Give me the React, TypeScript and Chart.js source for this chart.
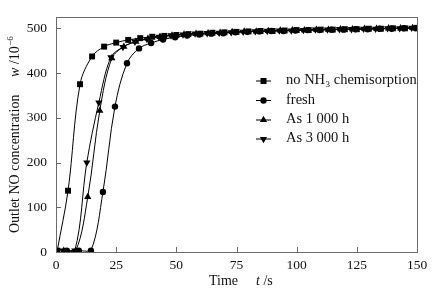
import React, { useEffect, useRef } from "react";
import { Chart, registerables } from "chart.js";

Chart.register(...registerables);

// ---- data ----
const squareT = [0.5, 5, 10, 15, 20, 25, 30, 35, 40, 45, 50, 55, 60, 65, 70, 75, 80, 85, 90, 95, 100, 105, 110, 115, 120, 125, 130, 135, 140, 145, 150];
const squareV = [3, 137, 375, 437, 459, 468, 474, 478, 481, 483, 485, 487, 488, 490, 491, 492, 493, 494, 494, 495, 496, 496, 497, 497, 498, 498, 499, 499, 500, 500, 501];

const freshT = [4.5, 9.5, 14.5, 19.5, 24.5, 29.5, 34.5, 39.5, 44.5, 49.5, 54.5, 59.5, 64.5, 69.5, 74.5, 79.5, 84.5, 89.5, 94.5, 99.5, 104.5, 109.5, 114.5, 119.5, 124.5, 129.5, 134.5, 139.5, 144.5, 149.5];
const freshV = [3, 3, 3, 134, 325, 422, 455, 467, 475, 480, 484, 486, 488, 489, 491, 492, 493, 494, 494, 495, 496, 496, 497, 497, 498, 498, 499, 499, 500, 500];

const as1000T = [3.2, 8.2, 13.2, 18.2, 23.2, 28.2, 33.2, 38.2, 43.2, 48.2, 53.2, 58.2, 63.2, 68.2, 73.2, 78.2, 83.2, 88.2, 93.2, 98.2, 103.2, 108.2, 113.2, 118.2, 123.2, 128.2, 133.2, 138.2, 143.2, 148.2];
const as1000V = [3, 3, 123, 316, 433, 459, 470, 477, 481, 484, 486, 488, 489, 490, 492, 493, 493, 494, 495, 496, 496, 497, 497, 498, 498, 499, 499, 500, 500, 501];

const as3000T = [2.8, 7.8, 12.8, 17.8, 22.8, 27.8, 32.8, 37.8, 42.8, 47.8, 52.8, 57.8, 62.8, 67.8, 72.8, 77.8, 82.8, 87.8, 92.8, 97.8, 102.8, 107.8, 112.8, 117.8, 122.8, 127.8, 132.8, 137.8, 142.8, 147.8];
const as3000V = [3, 3, 200, 334, 435, 458, 470, 476, 481, 484, 486, 488, 489, 490, 491, 492, 493, 494, 495, 495, 496, 497, 497, 498, 498, 499, 499, 500, 500, 501];

const seriesNames = ["no NH3 chemisorption", "fresh", "As 1 000 h", "As 3 000 h"];
const xTicks = [0, 25, 50, 75, 100, 125, 150];
const yTicks = [0, 100, 200, 300, 400, 500];

const SERIF = "'Liberation Serif', 'Times New Roman', serif";

function pts(t: number[], v: number[]) {
  return t.map((x, i) => ({ x, y: v[i] }));
}

function drawMarker(ctx: CanvasRenderingContext2D, kind: number, x: number, y: number) {
  ctx.beginPath();
  if (kind === 0) {
    ctx.rect(x - 3, y - 3, 6, 6);
  } else if (kind === 1) {
    ctx.arc(x, y, 3.2, 0, Math.PI * 2);
  } else if (kind === 2) {
    ctx.moveTo(x, y - 4.2);
    ctx.lineTo(x + 3.6, y + 2.1);
    ctx.lineTo(x - 3.6, y + 2.1);
    ctx.closePath();
  } else {
    ctx.moveTo(x, y + 4.2);
    ctx.lineTo(x + 3.6, y - 2.1);
    ctx.lineTo(x - 3.6, y - 2.1);
    ctx.closePath();
  }
  ctx.fill();
}

const decorPlugin = {
  id: "decor",
  afterDraw(chart: any) {
    const ctx: CanvasRenderingContext2D = chart.ctx;
    const a = chart.chartArea;
    const xs = chart.scales.x;
    const ys = chart.scales.y;
    ctx.save();
    // frame
    ctx.strokeStyle = "#6b6b6b";
    ctx.lineWidth = 1;
    ctx.strokeRect(Math.round(a.left) + 0.5, Math.round(a.top) + 0.5, Math.round(a.right - a.left), Math.round(a.bottom - a.top));
    // inward ticks
    ctx.beginPath();
    for (const v of xTicks) {
      const px = Math.round(xs.getPixelForValue(v)) + 0.5;
      ctx.moveTo(px, a.bottom);
      ctx.lineTo(px, a.bottom - 5);
    }
    for (const v of yTicks) {
      const py = Math.round(ys.getPixelForValue(v)) + 0.5;
      ctx.moveTo(a.left, py);
      ctx.lineTo(a.left + 5, py);
    }
    ctx.stroke();

    ctx.fillStyle = "#111";
    ctx.textBaseline = "middle";
    ctx.textAlign = "left";
    // x title
    ctx.font = `14px ${SERIF}`;
    ctx.fillText("Time", 209, 281);
    ctx.font = `italic 14px ${SERIF}`;
    ctx.fillText("t", 256, 281);
    const tw = ctx.measureText("t ").width;
    ctx.font = `14px ${SERIF}`;
    ctx.fillText("/s", 256 + tw, 281);

    // y title (rotated)
    ctx.save();
    ctx.translate(15.5, 233);
    ctx.rotate(-Math.PI / 2);
    ctx.font = `14px ${SERIF}`;
    ctx.fillText("Outlet NO concentration", 0, 0);
    let off = 156;
    ctx.font = `italic 14px ${SERIF}`;
    ctx.fillText("w", off, 0);
    off += ctx.measureText("w ").width;
    ctx.font = `14px ${SERIF}`;
    ctx.fillText("/10", off, 0);
    off += ctx.measureText("/10").width;
    ctx.font = `9px ${SERIF}`;
    ctx.fillText("\u22126", off + 0.5, -5);
    ctx.restore();

    // legend
    const rows = [80.5, 100, 119.5, 138.5];
    rows.forEach((ry, i) => {
      ctx.strokeStyle = "#000";
      ctx.beginPath();
      ctx.moveTo(256, ry + 0.5);
      ctx.lineTo(271, ry + 0.5);
      ctx.stroke();
      ctx.fillStyle = "#000";
      drawMarker(ctx, i, 263.5, ry + 0.5);
      ctx.fillStyle = "#111";
      ctx.font = `14.5px ${SERIF}`;
      if (i === 0) {
        let x0 = 286;
        ctx.fillText("no NH", x0, ry);
        x0 += ctx.measureText("no NH").width;
        ctx.font = `9px ${SERIF}`;
        ctx.fillText("3", x0 + 0.5, ry + 4);
        x0 += ctx.measureText("3").width + 0.5;
        ctx.font = `14.5px ${SERIF}`;
        ctx.fillText(" chemisorption", x0, ry);
      } else {
        ctx.fillText(seriesNames[i], 286, ry);
      }
    });
    ctx.restore();
  },
};

export default function App() {
  const ref = useRef<HTMLCanvasElement | null>(null);
  useEffect(() => {
    document.body.style.margin = "0";
    const canvas = ref.current!;
    const common = {
      borderColor: "#000",
      backgroundColor: "#000",
      pointBackgroundColor: "#000",
      pointBorderColor: "#000",
      borderWidth: 1,
      pointBorderWidth: 0,
      fill: false,
      tension: 0.35,
      showLine: true,
    };
    const chart = new Chart(canvas, {
      type: "line",
      data: {
        datasets: [
          { ...common, label: seriesNames[0], data: pts(squareT, squareV), pointStyle: "rect", pointRadius: 4.2 },
          { ...common, label: seriesNames[1], data: pts(freshT, freshV), pointStyle: "circle", pointRadius: 3.2 },
          { ...common, label: seriesNames[2], data: pts(as1000T, as1000V), pointStyle: "triangle", pointRadius: 4.2 },
          { ...common, label: seriesNames[3], data: pts(as3000T, as3000V), pointStyle: "triangle", pointRotation: 180, pointRadius: 4.2 },
        ],
      },
      options: {
        animation: false,
        responsive: false,
        devicePixelRatio: 1,
        layout: { padding: { left: 0, top: 15, right: 31, bottom: 0 } },
        plugins: { legend: { display: false }, tooltip: { enabled: false } },
        scales: {
          x: {
            type: "linear",
            min: 0,
            max: 150,
            grid: { display: false, drawTicks: false },
            border: { display: false },
            ticks: { stepSize: 25, padding: 5, color: "#111", font: { family: SERIF, size: 13.5 }, maxRotation: 0 },
            afterBuildTicks: (s: any) => {
              s.ticks = xTicks.map((v) => ({ value: v }));
            },
            afterFit: (s: any) => {
              s.height = 54;
            },
          },
          y: {
            type: "linear",
            min: 0,
            max: 525,
            grid: { display: false, drawTicks: false },
            border: { display: false },
            ticks: { padding: 9, color: "#111", font: { family: SERIF, size: 13.5 } },
            afterBuildTicks: (s: any) => {
              s.ticks = yTicks.map((v) => ({ value: v }));
            },
            afterFit: (s: any) => {
              s.width = 56;
            },
          },
        },
      },
      plugins: [decorPlugin],
    });
    return () => chart.destroy();
  }, []);
  return (
    <div style={{ width: 448, height: 306, background: "#fff" }}>
      <canvas ref={ref} width={448} height={306} />
    </div>
  );
}
